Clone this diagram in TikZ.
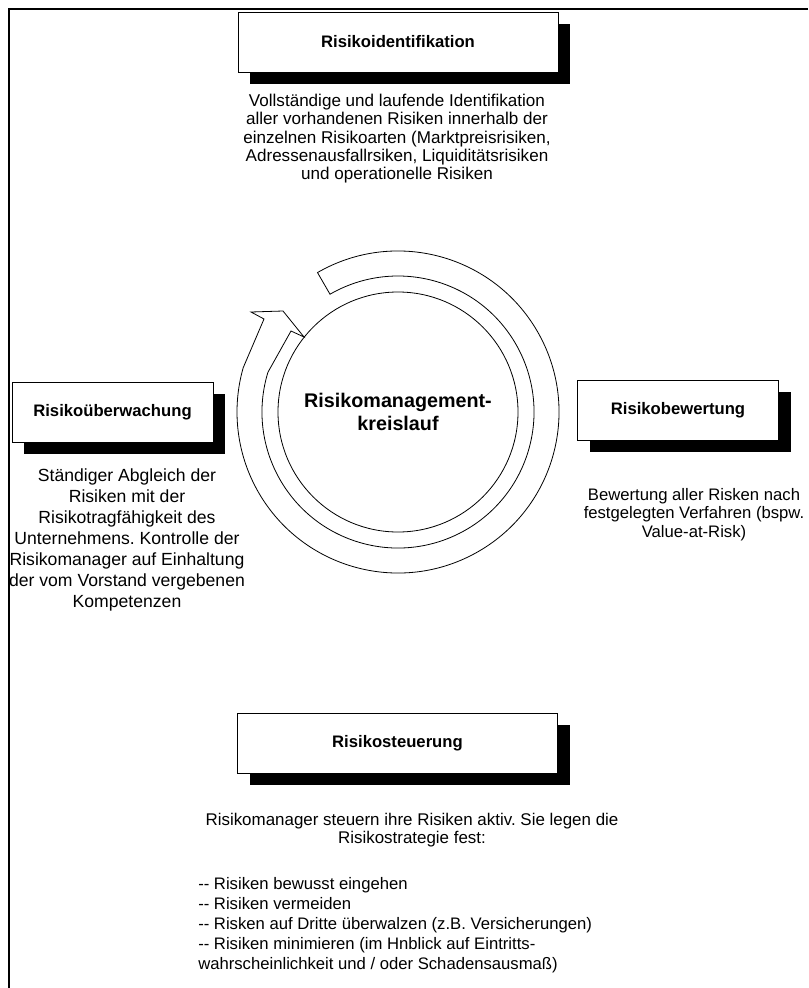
\documentclass[tikz,border=0pt]{standalone}
\usepackage{fontspec}
\setmainfont{Liberation Sans}
\usetikzlibrary{shadows}
\frenchspacing
\tikzstyle{stepbox}=[draw, line width=0.5pt, fill=white, inner sep=0pt, minimum height=45pt, font=\bfseries\fontsize{12.5}{15}\selectfont, drop shadow={shadow xshift=9pt, shadow yshift=-9pt, opacity=1, fill=black}]
\tikzstyle{widebox}=[stepbox, minimum width=240pt]
\tikzstyle{smallbox}=[stepbox, minimum width=150.75pt]
\tikzstyle{info}=[align=center, inner sep=0pt, anchor=north, font=\fontsize{12.8}{13.75}\selectfont]
\tikzstyle{ring}=[line width=0.6pt]
\newcommand{\listdash}{-\kern0pt-\ }

\begin{document}
\begin{tikzpicture}[x=0.75pt, y=0.75pt]
            \useasboundingbox (0,0) rectangle (808,-988);
            \draw[line width=1.4pt] (808,-9) -- (9,-9) -- (9,-988);
            % the four phases
            \node[widebox] (ident) at (398,-42) {Risikoidentifikation};
            \node[smallbox] (ueberw) at (112.5,-412) {Risikoüberwachung};
            \node[smallbox] (bewert) at (678,-410) {Risikobewertung};
            \node[widebox] (steuer) at (397.5,-743) {Risikosteuerung};
            % texts
            \node[info] (identtext) at (397,-94) {Vollständige und laufende Identifikation\\aller vorhandenen Risiken innerhalb der\\einzelnen Risikoarten (Marktpreisrisiken,\\Adressenausfallrsiken, Liquiditätsrisiken\\und operationelle Risiken};
            \node[info, font=\fontsize{13.2}{15.75}\selectfont] (ueberwtext) at (127,-468) {Ständiger Abgleich der\\Risiken mit der\\Risikotragfähigkeit des\\Unternehmens. Kontrolle der\\Risikomanager auf Einhaltung\\der vom Vorstand vergebenen\\Kompetenzen};
            \node[info, font=\fontsize{12.5}{13.9}\selectfont] (bewerttext) at (694,-488) {Bewertung aller Risken nach\\festgelegten Verfahren (bspw.\\Value-at-Risk)};
            \node[info, font=\fontsize{12.7}{13.75}\selectfont] (steuertext) at (412,-813) {Risikomanager steuern ihre Risiken aktiv. Sie legen die\\Risikostrategie fest:};
            \node[info, anchor=north west, align=left, font=\fontsize{12.5}{15}\selectfont] (steuerlist) at (198,-877) {\listdash Risiken bewusst eingehen\\\listdash Risiken vermeiden\\\listdash Risken auf Dritte überwalzen (z.B. Versicherungen)\\\listdash Risiken minimieren (im Hnblick auf Eintritts-\\wahrscheinlichkeit und / oder Schadensausmaß)};
            % the cycle
            \coordinate (mid) at (398,-412);
            \draw[ring] (mid) circle (120);
            \node[font=\bfseries\fontsize{14.8}{17.3}\selectfont, align=center] (cycle) at (mid) {Risikomanagement-\\kreislauf};
            \draw[ring, line join=miter]
                ([shift={(120:161)}]mid) arc[start angle=120, end angle=-196, radius=161]
                -- (264,-319) -- (251,-312) -- (283,-311) -- (304,-337) -- (291,-331)
                -- ([shift={(163:136)}]mid) arc[start angle=-197, end angle=120, radius=136]
                -- cycle;
        \end{tikzpicture}
\end{document}
